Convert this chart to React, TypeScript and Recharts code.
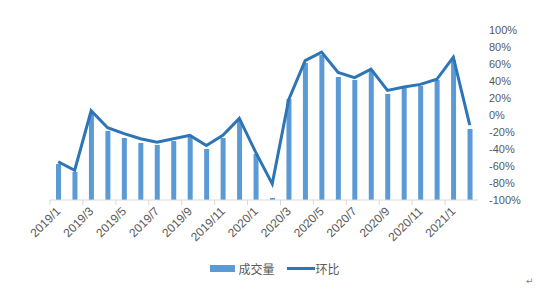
import React from 'react'
import {
  Bar,
  ComposedChart,
  Legend,
  Line,
  XAxis,
  YAxis,
} from 'recharts'

const months = [
  '2019/1', '2019/2', '2019/3', '2019/4', '2019/5', '2019/6', '2019/7', '2019/8', '2019/9',
  '2019/10', '2019/11', '2019/12', '2020/1', '2020/2', '2020/3', '2020/4', '2020/5', '2020/6',
  '2020/7', '2020/8', '2020/9', '2020/10', '2020/11', '2020/12', '2021/1', '2021/2',
]

// 成交量 (left axis is hidden, so the unit is relative)
const volume = [
  36, 28, 87, 69, 62, 57, 55, 59, 63, 51, 62, 80, 46, 2, 101, 137, 145, 123, 120, 130, 106, 112,
  114, 120, 140, 71,
]

// 环比, percent
const mom = [
  -55, -65, 5, -15, -22, -28, -32, -28, -24, -36, -24, -4, -44, -81, 18, 64, 74, 50, 44, 54, 29,
  33, 36, 42, 68, -12,
]

const pctTicks = [-100, -80, -60, -40, -20, 0, 20, 40, 60, 80, 100]

const data = months.map((m, i) => ({ month: m, volume: volume[i], mom: mom[i] }))

const BAR_COLOR = '#5b9bd5'
const LINE_COLOR = '#2e75b6'
const TEXT_COLOR = '#595959'
const AXIS_COLOR = '#d9d9d9'

const CHART_W = 544
const CHART_H = 291
const MARGIN = { top: 30, right: 6, left: 50, bottom: 13 }
const Y_AXIS_W = 60
const BAND = (CHART_W - MARGIN.left - MARGIN.right - Y_AXIS_W) / months.length

function MonthTick(props: any) {
  const { x, y, payload, index } = props
  const edge = x - BAND / 2
  const lastShown = index === months.length - 2
  return (
    <g>
      <line x1={edge} x2={edge} y1={y} y2={y + 5} stroke={AXIS_COLOR} />
      {lastShown && (
        <line x1={edge + 2 * BAND} x2={edge + 2 * BAND} y1={y} y2={y + 5} stroke={AXIS_COLOR} />
      )}
      <text
        x={x + 3}
        y={y + 12}
        transform={`rotate(-45, ${x + 3}, ${y + 12})`}
        textAnchor='end'
        fill={TEXT_COLOR}
        fontSize={12}
        fontFamily='"Liberation Sans", Arial, sans-serif'
      >
        {payload.value}
      </text>
    </g>
  )
}

function LegendContent() {
  return (
    <div
      style={{
        height: 20,
        display: 'flex',
        alignItems: 'center',
        justifyContent: 'center',
        fontSize: 12,
        color: TEXT_COLOR,
        fontFamily: '"Noto Sans CJK SC", sans-serif',
        paddingRight: 38,
      }}
    >
      <span style={{ display: 'inline-block', width: 25, height: 7, background: BAR_COLOR, marginRight: 3 }} />
      <span>成交量</span>
      <span
        style={{ display: 'inline-block', width: 28, height: 3, background: LINE_COLOR, marginLeft: 12, marginRight: 1 }}
      />
      <span>环比</span>
    </div>
  )
}

export default function App() {
  return (
    <div style={{ position: 'absolute', left: 0, top: 0, width: CHART_W, height: CHART_H, background: '#fff' }}>
      <ComposedChart width={CHART_W} height={CHART_H} data={data} margin={MARGIN}>
        <XAxis
          dataKey='month'
          interval={1}
          height={58}
          tickSize={0}
          tickMargin={0}
          tickLine={false}
          axisLine={{ stroke: AXIS_COLOR }}
          tick={<MonthTick />}
        />
        <YAxis yAxisId='left' hide domain={[0, 170]} />
        <YAxis
          yAxisId='right'
          orientation='right'
          width={Y_AXIS_W}
          domain={[-100, 100]}
          ticks={pctTicks}
          interval={0}
          tickFormatter={(v) => `${v}%`}
          axisLine={false}
          tickLine={false}
          tickMargin={5}
          tick={{ fill: TEXT_COLOR, fontSize: 11, fontFamily: '"Liberation Sans", Arial, sans-serif' }}
        />
        <Legend verticalAlign='bottom' content={<LegendContent />} />
        <Bar yAxisId='left' dataKey='volume' name='成交量' fill={BAR_COLOR} barSize={5} isAnimationActive={false} />
        <Line
          yAxisId='right'
          dataKey='mom'
          name='环比'
          type='linear'
          stroke={LINE_COLOR}
          strokeWidth={3}
          dot={false}
          isAnimationActive={false}
        />
      </ComposedChart>
      <span
        style={{
          position: 'absolute',
          left: 526,
          top: 276,
          fontSize: 9,
          color: '#7f7f7f',
          fontFamily: '"DejaVu Sans", sans-serif',
        }}
      >
        ↵
      </span>
    </div>
  )
}
